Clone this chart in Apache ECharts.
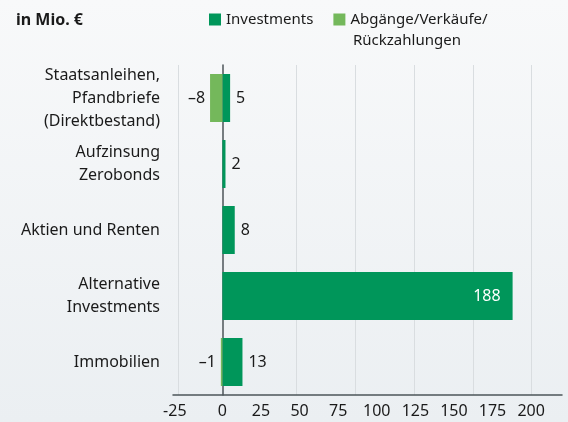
<!DOCTYPE html>
<html>
<head>
<meta charset="utf-8">
<script src="https://cdn.jsdelivr.net/npm/echarts@6/dist/echarts.min.js"></script>
<style>
  html, body { margin: 0; padding: 0; }
  #chart { width: 568px; height: 422px; }
</style>
</head>
<body>
<div id="chart"></div>
<script>
// categories top to bottom
const categories = [
  'Staatsanleihen,\nPfandbriefe\n(Direktbestand)',
  'Aufzinsung\nZerobonds',
  'Aktien und Renten',
  'Alternative\nInvestments',
  'Immobilien'
];
const investments = [5, 2, 8, 188, 13];
const abgaenge = [-8, null, null, null, -1];
const tickValues = [-25, 0, 25, 50, 75, 100, 125, 150, 175, 200];
// the light vertical grid lines sit off the label positions in the original
const gridValues = [-28.6, 48.1, 86.2, 124.1, 162.2, 200.2];

const FONT = 'Noto Sans';
const dark = '#1a1a1a';
const nameInv = 'Investments';
const nameAbg = 'Abgänge/Verkäufe/';

let myChart = echarts.init(document.getElementById('chart'));
let option = {
  backgroundColor: {
    type: 'linear', x: 0, y: 0, x2: 0, y2: 1,
    colorStops: [
      { offset: 0, color: '#f8f9fa' },
      { offset: 1, color: '#ebeff2' }
    ]
  },
  textStyle: { fontFamily: FONT },
  title: {
    text: 'in Mio. €',
    left: 11,
    top: 7,
    textStyle: { fontSize: 16, fontWeight: 'bold', color: dark, fontFamily: FONT }
  },
  legend: {
    left: 209,
    top: 12,
    padding: 0,
    icon: 'rect',
    itemWidth: 12,
    itemHeight: 12,
    itemGap: 20,
    textStyle: { fontSize: 15, color: dark, fontFamily: FONT },
    data: [nameInv, nameAbg]
  },
  // second line of the legend entry
  graphic: [
    {
      type: 'text',
      left: 353,
      top: 33,
      style: { text: 'Rückzahlungen', fontSize: 15, fill: dark, fontFamily: FONT }
    }
  ],
  grid: {
    left: 173,
    right: 6,
    top: 65,
    bottom: 27,
    containLabel: false
  },
  xAxis: {
    type: 'value',
    min: -32,
    max: 220,
    axisLine: { show: true, onZero: false, lineStyle: { color: '#4c5559', width: 1.5 } },
    axisTick: { show: false, customValues: gridValues },
    splitLine: { show: true, lineStyle: { color: '#d9dde0', width: 1 } },
    axisLabel: {
      customValues: tickValues,
      fontSize: 16,
      color: dark,
      margin: 8,
      formatter: function (v) {
        return v < 0 ? '{neg|' + v + '}' : String(v);
      },
      rich: {
        neg: { fontSize: 16, color: dark, padding: [0, 18, 0, 0], fontFamily: FONT }
      }
    }
  },
  yAxis: {
    type: 'category',
    inverse: true,
    data: categories,
    axisLine: { show: true, onZero: true, lineStyle: { color: '#4c5559', width: 1.5 } },
    axisTick: { show: false },
    splitLine: { show: false },
    axisLabel: {
      fontSize: 16,
      color: dark,
      lineHeight: 23,
      margin: 13,
      align: 'right'
    }
  },
  series: [
    {
      name: nameInv,
      type: 'bar',
      stack: 'a',
      barWidth: 48,
      itemStyle: { color: '#00965a' },
      label: {
        show: true,
        position: 'right',
        distance: 6,
        fontSize: 16,
        color: dark,
        fontFamily: FONT
      },
      data: investments.map(function (v) {
        if (v > 100) {
          return { value: v, label: { position: 'insideRight', color: '#ffffff', distance: 12 } };
        }
        return v;
      })
    },
    {
      name: nameAbg,
      type: 'bar',
      stack: 'a',
      barWidth: 48,
      itemStyle: { color: '#74b85b' },
      label: {
        show: true,
        position: 'left',
        distance: 5,
        fontSize: 16,
        color: dark,
        fontFamily: FONT,
        formatter: function (p) {
          return String(p.value).replace('-', '\u2013');
        }
      },
      data: abgaenge
    }
  ]
};

option && myChart.setOption(option);
</script>
</body>
</html>
